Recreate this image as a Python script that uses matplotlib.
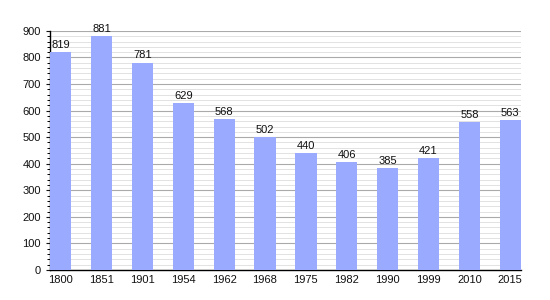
import matplotlib
matplotlib.use("Agg")
import matplotlib.pyplot as plt
from matplotlib.ticker import MultipleLocator

plt.rcParams["font.family"] = ["Liberation Sans", "DejaVu Sans"]

years = ["1800", "1851", "1901", "1954", "1962", "1968", "1975", "1982", "1990", "1999", "2010", "2015"]
population = [819, 881, 781, 629, 568, 502, 440, 406, 385, 421, 558, 563]

fig = plt.figure(figsize=(5.5, 3.0), dpi=100)
ax = fig.add_axes([0.091, 0.1, 0.856, 0.797])
x = list(range(len(years)))
ax.bar(x, population, width=0.52, color="#99aaff", zorder=3)
for xi, v in zip(x, population):
    ax.text(xi, v + 8, str(v), ha="center", va="bottom", fontsize=8, color="#111111", zorder=4)

ax.set_xlim(-0.26, len(years) - 1 + 0.26)
ax.set_ylim(0, 900)
ax.set_xticks(x)
ax.set_xticklabels(years)
ax.yaxis.set_major_locator(MultipleLocator(100))
ax.yaxis.set_minor_locator(MultipleLocator(20))
ax.grid(axis="y", which="major", color="#aaaaaa", linewidth=0.8, zorder=0)
ax.grid(axis="y", which="minor", color="#e2e2e2", linewidth=0.7, zorder=0)
ax.tick_params(axis="both", labelsize=8, length=3, width=0.8, colors="#111111")
ax.tick_params(axis="x", length=0)
ax.tick_params(axis="y", which="minor", length=2, width=0.7)
for s in ["top", "right"]:
    ax.spines[s].set_visible(False)
ax.spines["left"].set_linewidth(1.0)
ax.spines["bottom"].set_linewidth(1.0)
fig.savefig("out.png", dpi=100)
